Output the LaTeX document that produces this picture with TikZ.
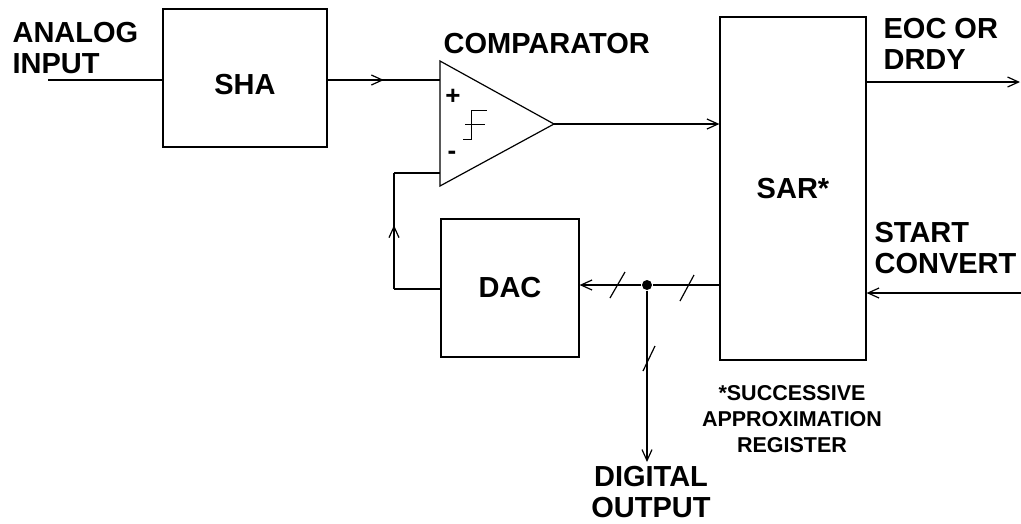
\documentclass[tikz,border=0pt]{standalone}
\usepackage{fontspec}
\setmainfont{Liberation Sans}
\usetikzlibrary{arrows.meta,decorations.markings}
\newcommand\lblfont{\fontsize{29}{31}\selectfont\bfseries}
\newcommand\notefont{\fontsize{21.5}{26}\selectfont\bfseries}
\begin{document}
\begin{tikzpicture}[x=1pt,y=-1pt,line width=1.2pt,
  >={Straight Barb[length=11pt,width=10pt]},
  box/.style={draw,inner sep=0pt,font=\lblfont},
  lbl/.style={inner sep=0pt,font=\lblfont},
  midarrow/.style={postaction={decorate},decoration={markings,
     mark=at position #1 with {\arrow{Straight Barb[length=11pt,width=10pt]}}}},
  slash/.style={line width=1.2pt}]
\useasboundingbox (0,0) rectangle (1021,523);

% blocks
\node[box,minimum width=164pt,minimum height=138pt,text height=33pt] (sha) at (245,78) {SHA};
\node[box,minimum width=138pt,minimum height=138pt] (dac) at (510,288) {DAC};
\node[box,minimum width=146pt,minimum height=343pt] (sar) at (793,188.5) {SAR*};

% comparator
\coordinate (ctop) at (440,61);
\coordinate (cbot) at (440,186);
\coordinate (co) at (554,124);
\coordinate (cp) at (440,80);
\coordinate (cm) at (440,173);
\draw (ctop) -- (co) -- (cbot) -- cycle;
\node[inner sep=0pt,font=\fontsize{26}{26}\selectfont\bfseries] (plus) at (453,97) {+};
\node[inner sep=0pt,font=\fontsize{26}{26}\selectfont\bfseries] (minus) at (452,155) {-};
\draw[line width=1pt] (463,139) -- (471,139) -- (471,110) -- (487,110);
\draw[line width=1pt] (465,124) -- (485,124);

% labels
\node[lbl,anchor=north west,align=left] (ain-l) at (12,22) {ANALOG\\INPUT};
\node[lbl,anchor=base west] (cmp-l) at (443,53) {COMPARATOR};
\node[lbl,anchor=north west,align=left] (eoc-l) at (883,18) {EOC OR\\DRDY};
\node[lbl,anchor=north west,align=left] (sc-l) at (874,222) {START\\CONVERT};
\node[lbl,anchor=north,align=center] (dout-l) at (651,466) {DIGITAL\\OUTPUT};
\node[inner sep=0pt,font=\notefont,anchor=north,align=center] (note) at (792,385) {*SUCCESSIVE\\APPROXIMATION\\REGISTER};

% connectors
\coordinate (ain) at (48,80);
\draw (ain) -- (ain -| sha.west);
\draw[midarrow=0.5] (sha.east |- cp) -- (cp);
\draw[->] (co) -- (co -| sar.west);
\coordinate (eoc) at (1020,82);
\draw[->] (sar.east |- eoc) -- (eoc);
\coordinate (sc) at (1021,293);
\draw[->] (sc) -- (sc -| sar.east);

\node[circle,fill,inner sep=0pt,minimum size=10pt] (dot) at (647,285) {};
\draw (sar.west |- dot) -- (dot);
\draw[->] (dot) -- (dot -| dac.east);
\coordinate (dout) at (647,462);
\draw[->] (dot) -- (dout);

\coordinate (fb1) at (394,289);
\coordinate (fb2) at (394,173);
\draw (dac.west |- fb1) -- (fb1);
\draw[midarrow=0.55] (fb1) -- (fb2);
\draw (fb2) -- (cm);

% bus slashes
\draw[slash] (610,298) -- (625,272);
\draw[slash] (680,301) -- (694,275);
\draw[slash] (643,371) -- (655,346);
\end{tikzpicture}
\end{document}
